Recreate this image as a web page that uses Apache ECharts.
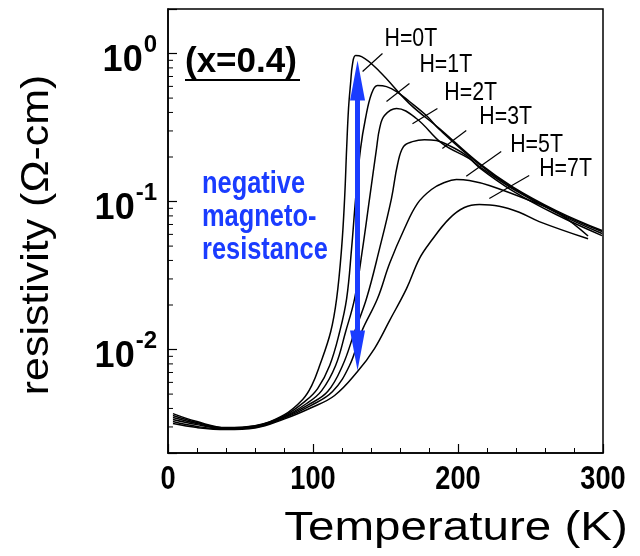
<!DOCTYPE html>
<html><head><meta charset="utf-8">
<script src="https://cdn.jsdelivr.net/npm/echarts@6/dist/echarts.min.js"></script>
<style>html,body{margin:0;padding:0;background:#fff}#c{width:640px;height:556px}</style>
</head><body><div id="c"></div>
<script>
// ---- data (Temperature K, resistivity ohm-cm) ----
const T_H0 = [3.4,20,40,60,80,92.9,99.1,104.6,112.2,116.3,119.7,121.8,123.2,124.5,125.9,127.3,129.4,133.5,145.9,166.5,187.2,214.7,237.4,267.7,299.3];
const R_H0 = [0.00369,0.00326,0.00297,0.00306,0.00362,0.00460,0.00571,0.00780,0.0132,0.0221,0.0481,0.1048,0.228,0.425,0.627,0.856,0.969,0.954,0.756,0.459,0.311,0.181,0.1263,0.0869,0.0637];
const T_H1 = [3.4,20,40,60,80,94.3,103.2,111.5,118.4,123.2,126.6,129.4,132.8,136.2,140.4,144.5,150.7,157.6,166.5,178.2,187.2,214.7,237.4,267.7,299.3];
const R_H1 = [0.00358,0.00321,0.00295,0.00304,0.00356,0.00445,0.00545,0.00780,0.0132,0.0221,0.0481,0.1048,0.228,0.364,0.537,0.608,0.598,0.554,0.474,0.381,0.3065,0.178,0.1243,0.0855,0.0627];
const T_H2 = [3.4,20,40,60,80,95.6,106.0,115.6,122.5,128.7,134.2,139.0,143.8,145.9,149.3,157.6,171.3,189.2,207.8,214.7,237.4,267.7,299.3];
const R_H2 = [0.00347,0.00316,0.00292,0.00302,0.00352,0.00432,0.00528,0.00780,0.0132,0.0221,0.0481,0.1048,0.228,0.311,0.381,0.425,0.364,0.246,0.195,0.1724,0.1224,0.0842,0.0608];
const T_H3 = [3.4,20,40,60,80,97.0,110.1,120.4,128.7,136.9,145.9,154.1,158.3,162.4,168.6,176.8,185.1,194.0,205.7,214.7,237.4,267.7,299.3];
const R_H3 = [0.00337,0.00311,0.00292,0.00300,0.00349,0.00425,0.00520,0.00780,0.0132,0.0221,0.0481,0.1048,0.178,0.235,0.254,0.262,0.2584,0.239,0.205,0.1697,0.1187,0.0817,0.0589];
const T_H5 = [3.4,20,40,60,80,98.4,113.5,125.2,133.5,144.5,152.8,163.1,172.0,181.7,190.6,198.9,207.8,221.6,251.2,269.7,289.7];
const R_H5 = [0.00326,0.00302,0.00290,0.00298,0.00344,0.00418,0.00520,0.00780,0.0132,0.0221,0.0381,0.0657,0.0969,0.1206,0.1344,0.1408,0.1386,0.1283,0.100,0.0830,0.0585];
const T_H7 = [3.4,20,40,60,80,99.1,114.9,130.7,142.4,152.8,164.5,173.4,181.7,194.0,204.4,214.7,228.4,242.2,256.0,289.7];
const R_H7 = [0.00316,0.00297,0.00288,0.00295,0.00339,0.00406,0.00489,0.00710,0.01016,0.0157,0.0258,0.0412,0.0545,0.0767,0.0911,0.0954,0.0930,0.0846,0.0732,0.0560];

const curveNames = ['H=0T','H=1T','H=2T','H=3T','H=5T','H=7T'];
// label anchor points (left-middle of text) and leader lines
const labelT = [149.3,173.4,190.6,214.7,236.0,256.0];
const labelR = [1.263,0.843,0.545,0.375,0.242,0.167];
const leadT1 = [134.2,150.7,168.6,189.2,205.7,221.6];
const leadR1 = [0.756,0.474,0.336,0.228,0.148,0.1048];
const leadT2 = [147.9,166.5,185.8,205.7,229.8,249.1];
const leadR2 = [1.0,0.627,0.425,0.302,0.218,0.150];
// blue arrow (temperature, centres of the two heads)
const arrowT = 130.7, arrowTop = 0.657, arrowBottom = 0.00984;
// axes
const xMin = 0, xMax = 300, xStep = 100;
const xTickLabels = [0, 100, 200, 300];
const yMin = 0.002, yMax = 2;

const sans = '"Liberation Sans", Arial, Helvetica, sans-serif';

const curvesT = [T_H0,T_H1,T_H2,T_H3,T_H5,T_H7];
const curvesR = [R_H0,R_H1,R_H2,R_H3,R_H5,R_H7];

const chart = echarts.init(document.getElementById('c'));
const arrowPath = 'path://M0,0 L10,40 L-10,40 Z';

const series = curveNames.map((n,i)=>({
  name:n, type:'line', showSymbol:false, symbol:'none', smooth:0.4,
  data: curvesT[i].map((t,j)=>[t, curvesR[i][j]]),
  lineStyle:{color:'#000', width:1.5}, silent:true, z:3
}));
series[0].markLine = {
  silent:true, animation:false, symbol:[arrowPath, arrowPath], symbolSize:[15,40],
  lineStyle:{color:'#1a3cff', width:5, type:'solid'}, label:{show:false},
  emphasis:{disabled:true},
  data:[[{coord:[arrowT, arrowTop], symbolSize:[15,40]},{coord:[arrowT, arrowBottom], symbolSize:[15,40]}]],
  z:6
};
series.push({
  type:'lines', coordinateSystem:'cartesian2d', silent:true, z:4,
  data: leadT1.map((t,i)=>({coords:[[t, leadR1[i]],[leadT2[i], leadR2[i]]]})),
  lineStyle:{color:'#000', width:1.2, opacity:1}
});

chart.setOption({
  animation:false,
  backgroundColor:'#fff',
  grid:{left:168, top:9, width:435, height:444, show:true, borderColor:'#000', borderWidth:1.5, backgroundColor:'#fff'},
  xAxis:{type:'value', min:xMin, max:xMax, interval:xStep,
    axisLine:{lineStyle:{color:'#000', width:1.5}},
    axisTick:{inside:true, length:9, lineStyle:{color:'#000', width:1.2}},
    minorTick:{show:true, splitNumber:5, length:5, lineStyle:{color:'#000', width:1}},
    splitLine:{show:false}, minorSplitLine:{show:false},
    axisLabel:{show:false}},
  yAxis:{type:'log', logBase:10, min:yMin, max:yMax,
    axisLine:{show:true, lineStyle:{color:'#000', width:1.5}},
    axisTick:{inside:true, length:9, lineStyle:{color:'#000', width:1.2}},
    splitLine:{show:false},
    axisLabel:{margin:11, padding:[16,0,0,0], formatter:v=>{const e=Math.log10(v); const r=Math.round(e); if(Math.abs(e-r)>1e-6) return ''; return '{b|10}{s|'+r+'}';},
      rich:{b:{fontFamily:sans, fontWeight:'bold', fontSize:36, lineHeight:36, color:'#000', verticalAlign:'bottom'},
            s:{fontFamily:sans, fontWeight:'bold', fontSize:24, lineHeight:24, color:'#000', verticalAlign:'bottom', padding:[0,0,22,1]}}}},
  series
});

// minor log ticks (2..9 x decade) via the axis scale
const x0 = chart.convertToPixel({xAxisIndex:0}, xMin);
const yBottom = chart.convertToPixel({yAxisIndex:0}, yMin);
const minorVals = [];
for (let d=-3; d<=0; d++) for (let m=2; m<=9; m++){ const v=m*Math.pow(10,d); if (v>yMin*1.0001 && v<yMax*0.9999) minorVals.push(v); }
const graphics = minorVals.map(v=>{ const p=chart.convertToPixel({yAxisIndex:0}, v); return {type:'line', silent:true, shape:{x1:x0, y1:p, x2:x0+5, y2:p}, style:{stroke:'#000', lineWidth:1}}; });
// x tick labels (condensed bold)
xTickLabels.forEach(v=>{
  const px = chart.convertToPixel({xAxisIndex:0}, v);
  graphics.push({type:'text', x:px, y:yBottom+27, scaleX:0.8, silent:true,
    style:{text:String(v), font:'bold 34px '+sans, fill:'#000', align:'center', verticalAlign:'middle'}});
});
// curve labels (condensed)
curveNames.forEach((n,i)=>{
  const p = chart.convertToPixel({xAxisIndex:0, yAxisIndex:0}, [labelT[i], labelR[i]]);
  graphics.push({type:'text', x:p[0], y:p[1], scaleX:0.82, silent:true,
    style:{text:n, font:'26px '+sans, fill:'#000', align:'left', verticalAlign:'middle'}});
});
graphics.push(
  {type:'text', x:185, y:62, silent:true, style:{text:'(x=0.4)', font:'bold 35px '+sans, fill:'#000', align:'left', verticalAlign:'middle'}},
  {type:'line', silent:true, shape:{x1:185, y1:80, x2:300, y2:80}, style:{stroke:'#000', lineWidth:2}},
  {type:'text', x:202, y:168, scaleX:0.82, silent:true, style:{text:'negative\nmagneto-\nresistance', font:'bold 31px '+sans, lineHeight:33, fill:'#1a3cff', align:'left', verticalAlign:'top'}},
  {type:'text', x:456, y:529, scaleX:1.16, silent:true, style:{text:'Temperature (K)', font:'41px '+sans, fill:'#000', align:'center', verticalAlign:'middle'}},
  {type:'text', x:37, y:235, rotation:Math.PI/2, scaleX:1.1, silent:true, style:{text:'resistivity (Ω-cm)', font:'39px '+sans, fill:'#000', align:'center', verticalAlign:'middle'}}
);
chart.setOption({graphic: graphics});
</script></body></html>
